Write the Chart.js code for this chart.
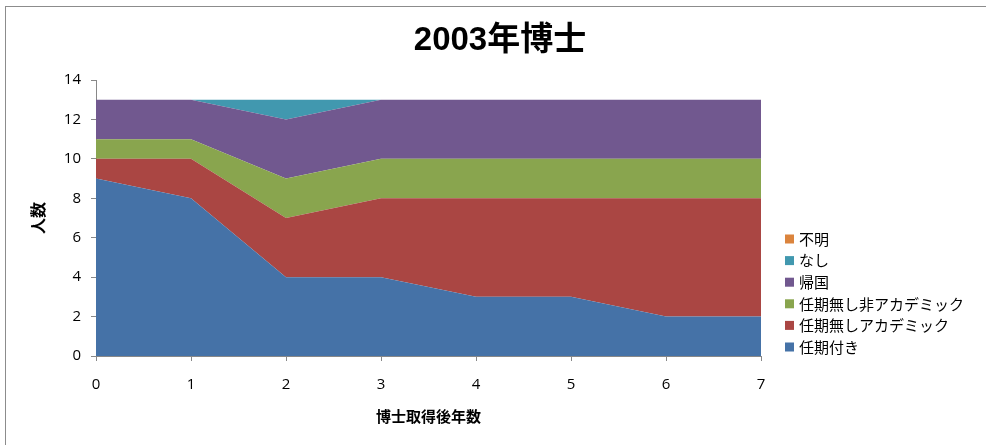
<!DOCTYPE html>
<html><head><meta charset="utf-8">
<script src="https://cdn.jsdelivr.net/npm/chart.js@4"></script>
<style>
html,body{margin:0;padding:0;background:#fff;}
#wrap{position:absolute;left:0;top:0;width:986px;height:445px;}
#frame{position:absolute;left:5px;top:6px;width:990px;height:450px;border:1px solid #8c8c8c;box-sizing:border-box;pointer-events:none;}
</style></head>
<body>
<div id="wrap"><canvas id="c" width="986" height="445"></canvas></div>
<div id="frame"></div>
<script>
const years = ['0','1','2','3','4','5','6','7'];
const ninkiTsuki = [9, 8, 4, 4, 3, 3, 2, 2];
const munkiAcademic = [1, 2, 3, 4, 5, 5, 6, 6];
const munkiNonAcademic = [1, 1, 2, 2, 2, 2, 2, 2];
const kikoku = [2, 2, 3, 3, 3, 3, 3, 3];
const nashi = [0, 0, 1, 0, 0, 0, 0, 0];
const fumei = [0, 0, 0, 0, 0, 0, 0, 0];
const yTicks = [0, 2, 4, 6, 8, 10, 12, 14];
const chartTitle = '2003年博士';

const seriesNames = ['任期付き','任期無しアカデミック','任期無し非アカデミック','帰国','なし','不明'];
const seriesData = [ninkiTsuki, munkiAcademic, munkiNonAcademic, kikoku, nashi, fumei];
const colors = ['#4572A7','#AA4643','#89A54E','#71588F','#4198AF','#DB843D'];

const datasets = seriesNames.map((n,i)=>({
  label:n, data:seriesData[i], backgroundColor:colors[i], borderColor:colors[i],
  borderWidth:0, pointRadius:0, fill: i===0 ? 'origin' : '-1', tension:0
}));

const decorPlugin = {
  id:'decor',
  afterDraw(chart){
    const ctx = chart.ctx;
    const ca = chart.chartArea;
    const ds = chart.data.datasets;
    ctx.save();
    // title
    ctx.font = 'bold 33px "Liberation Sans", "Noto Sans CJK JP", sans-serif';
    ctx.textAlign = 'center';
    ctx.textBaseline = 'middle';
    ctx.fillStyle = '#000';
    ctx.fillText(chartTitle, chart.width/2 + 7, 41);
    // legend
    ctx.textAlign = 'left';
    ctx.font = '15px "Noto Sans CJK JP", sans-serif';
    const x0 = ca.right + 24;
    const yBottom = ca.bottom - 9;
    const step = 21.6;
    for(let i=0;i<ds.length;i++){
      const y = yBottom - i*step;
      ctx.fillStyle = ds[i].backgroundColor;
      ctx.fillRect(x0, y-4.5, 9, 9);
      ctx.fillStyle = '#000';
      ctx.fillText(ds[i].label, x0+14, y);
    }
    ctx.restore();
  }
};

new Chart(document.getElementById('c'), {
  type:'line',
  data:{labels:years, datasets},
  plugins:[decorPlugin],
  options:{
    responsive:false, animation:false,
    layout:{padding:{left:28,right:225,top:80,bottom:20}},
    plugins:{
      legend:{display:false},
      tooltip:{enabled:false},
      title:{display:false}
    },
    scales:{
      x:{
        offset:false,
        grid:{display:true, drawOnChartArea:false, drawTicks:true, tickLength:5, color:'#888'},
        border:{color:'#888'},
        ticks:{color:'#000', font:{family:'"Open Sans", sans-serif', size:15}, padding:15, maxRotation:0},
        title:{display:true, text:'博士取得後年数', color:'#000',
          font:{family:'"Noto Sans CJK JP", sans-serif', size:15, weight:'bold'}, padding:{top:6,bottom:0}},
        afterFit(s){ s.height = 69; }
      },
      y:{
        stacked:true, min:0, max:14,
        afterBuildTicks(s){ s.ticks = yTicks.map(v=>({value:v})); },
        grid:{display:true, drawOnChartArea:false, drawTicks:true, tickLength:5, color:'#888'},
        border:{color:'#888'},
        ticks:{color:'#000', font:{family:'"Open Sans", sans-serif', size:15}, padding:10},
        title:{display:true, text:'人数', color:'#000',
          font:{family:'"Noto Sans CJK JP", sans-serif', size:16, weight:'bold'}, padding:{top:0,bottom:0}},
        afterFit(s){ s.width = 68; }
      }
    }
  }
});
</script>
</body></html>
